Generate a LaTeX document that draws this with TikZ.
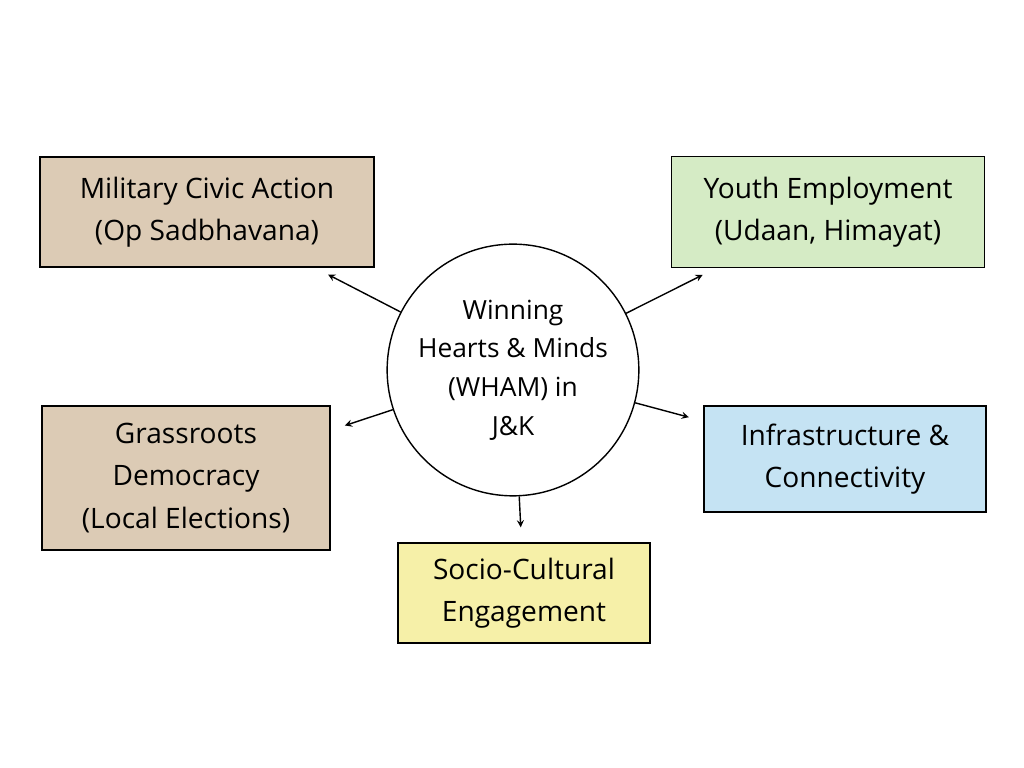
\documentclass[tikz,border=0pt]{standalone}
\usepackage{fontspec}
\setmainfont{Open Sans}
\definecolor{tanfill}{HTML}{DCCBB5}
\definecolor{greenfill}{HTML}{D5EBC5}
\definecolor{bluefill}{HTML}{C5E3F3}
\definecolor{yellowfill}{HTML}{F6F0A8}
\definecolor{ringblue}{HTML}{B9DAF0}
\begin{document}
\begin{tikzpicture}[
        box/.style={
            rectangle,
            draw=black,
            thick,
            align=center,
            font=\fontsize{16}{24}\selectfont
        },
        hub/.style={
            circle,
            draw=black,
            thick,
            fill=white,
            minimum size=4.4cm,
            align=center,
            font=\fontsize{15}{22}\selectfont
        },
        arrow/.style={
            ->,
            >=stealth,
            thick,
            draw=black,
            shorten >=0.3cm
        }
    ]

    \useasboundingbox (0,0) rectangle (20.48,15.36);

    % --- Hub ---
    \draw[ringblue, line width=3pt] (10.26,7.96) circle (2.3cm);
    \node[hub] (wham) at (10.26,7.96) {Winning\\Hearts \& Minds\\(WHAM) in\\J\&K};

    % --- Initiatives ---
    \node[box, fill=tanfill, minimum width=6.68cm, minimum height=2.2cm] (civic) at (4.14,11.12) {Military Civic Action\\(Op Sadbhavana)};
    \node[box, fill=greenfill, minimum width=6.26cm, minimum height=2.22cm] (youth) at (16.56,11.12) {Youth Employment\\(Udaan, Himayat)};
    \node[box, fill=tanfill, minimum width=5.76cm, minimum height=2.88cm] (grass) at (3.72,5.8) {Grassroots\\Democracy\\(Local Elections)};
    \node[box, fill=bluefill, minimum width=5.64cm, minimum height=2.12cm] (infra) at (16.9,6.18) {Infrastructure \&\\Connectivity};
    \node[box, fill=yellowfill, minimum width=5.04cm, minimum height=2.0cm] (socio) at (10.48,3.5) {Socio-Cultural\\Engagement};

    % Links
    \draw[arrow] (wham) -- (civic);
    \draw[arrow] (wham) -- (youth);
    \draw[arrow] (wham) -- (grass);
    \draw[arrow] (wham) -- (infra);
    \draw[arrow] (wham) -- (socio);

    \end{tikzpicture}
\end{document}
